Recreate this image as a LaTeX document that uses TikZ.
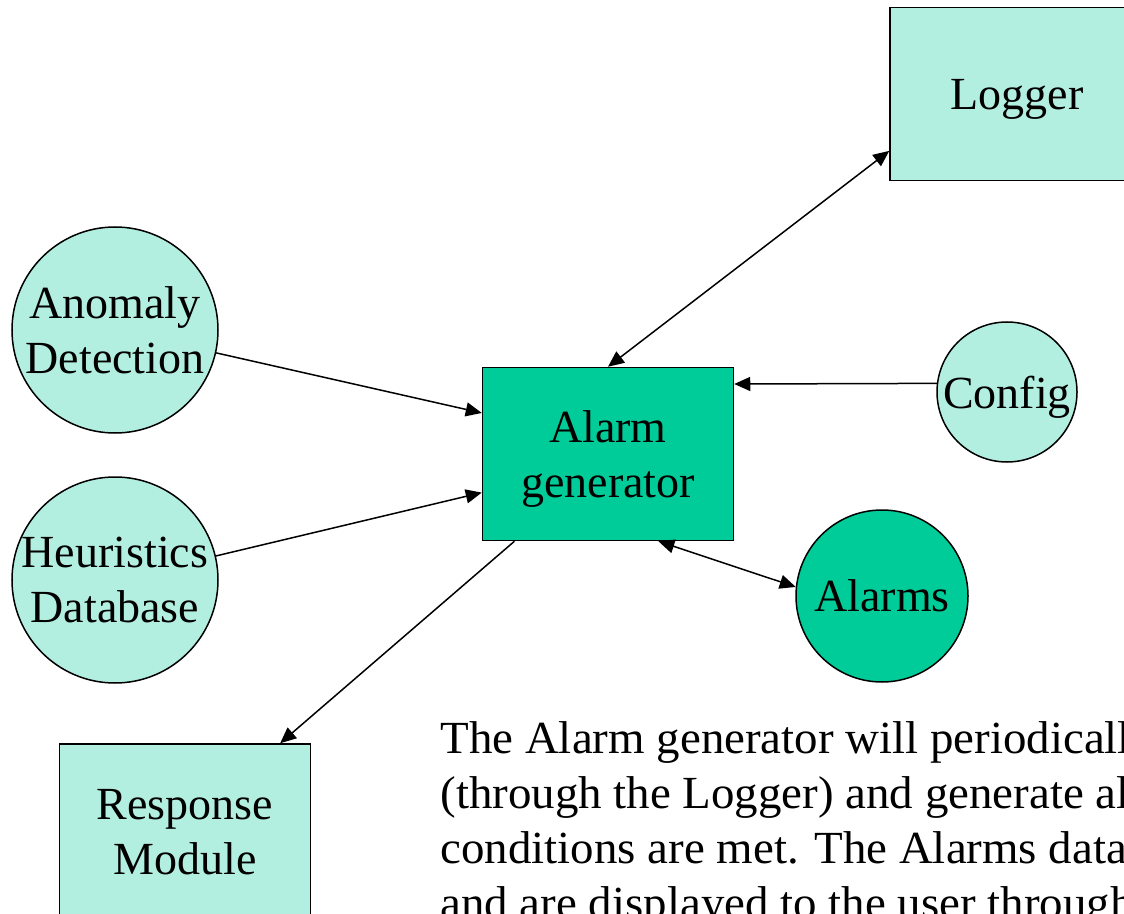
\documentclass[tikz,border=0pt]{standalone}
\usepackage{fontspec}
\setmainfont{Liberation Serif}
\usetikzlibrary{arrows.meta}
\definecolor{paleteal}{RGB}{179,239,224}
\definecolor{seateal}{RGB}{0,204,153}

\begin{document}
\begin{tikzpicture}[x=0.5pt,y=-0.5pt,
  txt/.style={font=\fontsize{23}{27.5}\selectfont},
  box/.style={txt,draw=black,line width=0.75pt,fill=paleteal,inner sep=0pt,
    align=center,text depth=0pt,minimum width=125.5pt,minimum height=86.5pt},
  blob/.style={txt,circle,draw=black,line width=0.75pt,fill=paleteal,
    inner sep=-2pt,align=center,text depth=0pt},
  tip/.tip={Triangle[length=8pt,width=7pt]},
  link/.style={line width=0.75pt,-tip},
  twoway/.style={line width=0.75pt,tip-tip}]
\useasboundingbox (0,0) rectangle (1124,914);
\clip (0,0) rectangle (1124,914);

% the parts
\node[box,minimum width=127pt] (logger) at (1017,94) {Logger};
\node[box,fill=seateal] (alarmgen) at (608,454) {Alarm\\generator};
\node[box,minimum height=88pt] (response) at (185,832) {Response\\Module};
\node[blob,minimum size=103pt] (anomaly) at (115,330) {Anomaly\\Detection};
\node[blob,minimum size=103pt] (heuristics) at (115,580) {Heuristics\\Database};
\node[blob,minimum size=70pt] (config) at (1007,392) {Config};
\node[blob,fill=seateal,minimum size=86pt] (alarms) at (882,596) {Alarms};

% the links
\draw[twoway] (alarmgen.north) -- (logger.204);
\draw[link] (anomaly) -- (alarmgen.162);
\draw[link] (heuristics) -- (alarmgen.197);
\draw[link] (config.173) -- (alarmgen.29);
\draw[twoway] (alarmgen.-60) -- (alarms.174);
\draw[link] (alarmgen.223) -- (response.43);

% note below
\node[txt,anchor=north west,inner sep=0pt,align=left,xscale=1.02] (note) at (440,721)
  {The Alarm generator will periodically\\(through the Logger) and generate alarms\\conditions are met. The Alarms database\\and are displayed to the user through};
\end{tikzpicture}
\end{document}
